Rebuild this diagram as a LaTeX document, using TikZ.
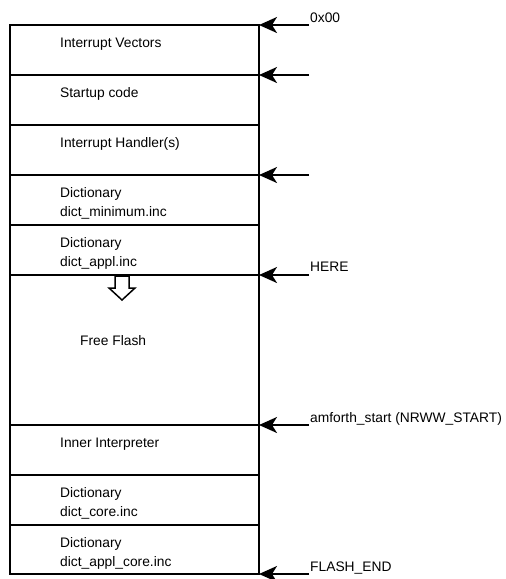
\documentclass[tikz,border=0pt]{standalone}
\usepackage{fontspec}
\setmainfont{Liberation Sans}
\usetikzlibrary{arrows.meta}
\begin{document}
\begin{tikzpicture}[x=1pt,y=-1pt,
  sec/.style={draw,line width=2pt,rectangle,minimum width=249pt,inner sep=0pt,outer sep=0pt},
  txt/.style={anchor=base west,inner sep=0pt,font=\fontsize{13.8}{16}\selectfont},
  ptr/.style={line width=2pt,-{Stealth[length=18pt,width=16pt,inset=5pt]}}]
\useasboundingbox (0,0) rectangle (506,579);
% sections
\node[sec,minimum height=50pt] (iv) at (134.5,50) {};
\node[sec,minimum height=50pt] (su) at (134.5,100) {};
\node[sec,minimum height=50pt] (ih) at (134.5,150) {};
\node[sec,minimum height=50pt] (dm) at (134.5,200) {};
\node[sec,minimum height=50pt] (da) at (134.5,250) {};
\node[sec,minimum height=150pt] (ff) at (134.5,350) {};
\node[sec,minimum height=50pt] (ii) at (134.5,450) {};
\node[sec,minimum height=50pt] (dc) at (134.5,500) {};
\node[sec,minimum height=49pt] (dac) at (134.5,549.5) {};
% texts
\node[txt] (tiv) at (60,47) {Interrupt Vectors};
\node[txt] (tsu) at (60,97) {Startup code};
\node[txt] (tih) at (60,147) {Interrupt Handler(s)};
\node[txt] (tdm1) at (60,197) {Dictionary};
\node[txt] (tdm2) at (60,216) {dict\_minimum.inc};
\node[txt] (tda1) at (60,247) {Dictionary};
\node[txt] (tda2) at (60,266) {dict\_appl.inc};
\node[txt] (tff) at (80,345) {Free Flash};
\node[txt] (tii) at (60,447) {Inner Interpreter};
\node[txt] (tdc1) at (60,497) {Dictionary};
\node[txt] (tdc2) at (60,516) {dict\_core.inc};
\node[txt] (tdac1) at (60,547) {Dictionary};
\node[txt] (tdac2) at (60,566) {dict\_appl\_core.inc};
% growth arrow
\draw[line width=1.5pt,fill=white] (115,276) -- (129,276) -- (129,288) -- (135,288) -- (122,300) -- (109,288) -- (115,288) -- cycle;
% pointers
\coordinate (a1) at (309,25);
\coordinate (a2) at (309,75);
\coordinate (a3) at (309,175);
\coordinate (a4) at (309,275);
\coordinate (a5) at (309,425);
\coordinate (a6) at (309,574);
\draw[ptr] (a1) -- (iv.north east);
\draw[ptr] (a2) -- (su.north east);
\draw[ptr] (a3) -- (dm.north east);
\draw[ptr] (a4) -- (ff.north east);
\draw[ptr] (a5) -- (ii.north east);
\draw[ptr] (a6) -- (dac.south east);
\node[txt] (l1) at (310,22) {0x00};
\node[txt] (l4) at (310,271) {HERE};
\node[txt] (l5) at (310,422) {amforth\_start (NRWW\_START)};
\node[txt] (l6) at (310,571) {FLASH\_END};
\end{tikzpicture}
\end{document}
